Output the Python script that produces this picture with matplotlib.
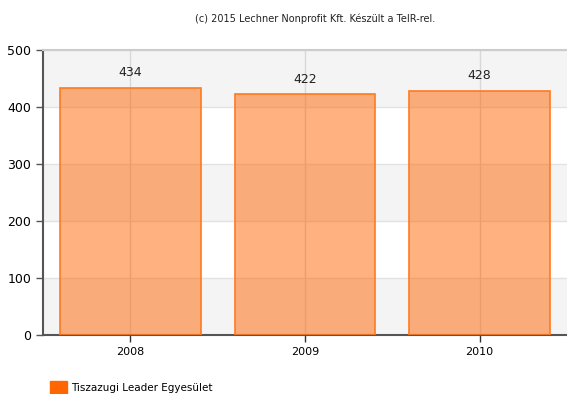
import matplotlib.pyplot as plt
from matplotlib.patches import Patch

years = ['2008', '2009', '2010']
values = [434, 422, 428]
series_name = 'Tiszazugi Leader Egyesület'
credit = '(c) 2015 Lechner Nonprofit Kft. Készült a TeIR-rel.'
y_ticks = [0, 100, 200, 300, 400, 500]

fig = plt.figure(figsize=(5.67, 3.94), dpi=100)
ax = fig.add_axes([43 / 567, 59 / 394, 524 / 567, 285 / 394])

# alternating horizontal bands
for i in range(len(y_ticks) - 1):
    if i % 2 == 0:
        ax.axhspan(y_ticks[i], y_ticks[i + 1], color='#f4f4f4', zorder=0, lw=0)
for t in y_ticks[1:]:
    ax.axhline(t, color='#e2e2e2', lw=1, zorder=0.5)

x = range(len(years))
for xi in x:
    ax.axvline(xi, color='#d8d8d8', lw=1, zorder=0.5)

bars = ax.bar(x, values, width=0.805, color='#ff6600', alpha=0.5, lw=0, zorder=2)
ax.bar(x, values, width=0.805, facecolor='none', edgecolor='#ff7a20',
       linewidth=1.2, zorder=3)

for xi, v in zip(x, values):
    ax.text(xi, v + 15, str(v), ha='center', va='bottom', fontsize=9, color='#222222')

ax.set_xlim(-0.5, len(years) - 0.5)
ax.set_ylim(0, 500)
ax.set_xticks(list(x))
ax.set_xticklabels(years, fontsize=8)
ax.set_yticks(y_ticks)
ax.tick_params(axis='y', labelsize=9, length=5, color='#555555', width=1)
ax.tick_params(axis='x', length=5, color='#333333', width=1)

ax.spines['left'].set_color('#555555')
ax.spines['left'].set_linewidth(1.5)
ax.spines['bottom'].set_color('#555555')
ax.spines['bottom'].set_linewidth(1.5)
ax.spines['right'].set_visible(False)
ax.spines['top'].set_color('#cccccc')
ax.spines['top'].set_linewidth(1.5)

fig.text(0.555, 0.953, credit, ha='center', va='center', fontsize=7, color='#222222')

handle = Patch(facecolor='#ff6600', edgecolor='#ff6600')
fig.legend([handle], [series_name], loc='lower left', bbox_to_anchor=(0.072, -0.025),
           frameon=False, fontsize=7.5, handlelength=1.6, handleheight=1.6,
           handletextpad=0.4)

fig.savefig('out.png', dpi=100)
